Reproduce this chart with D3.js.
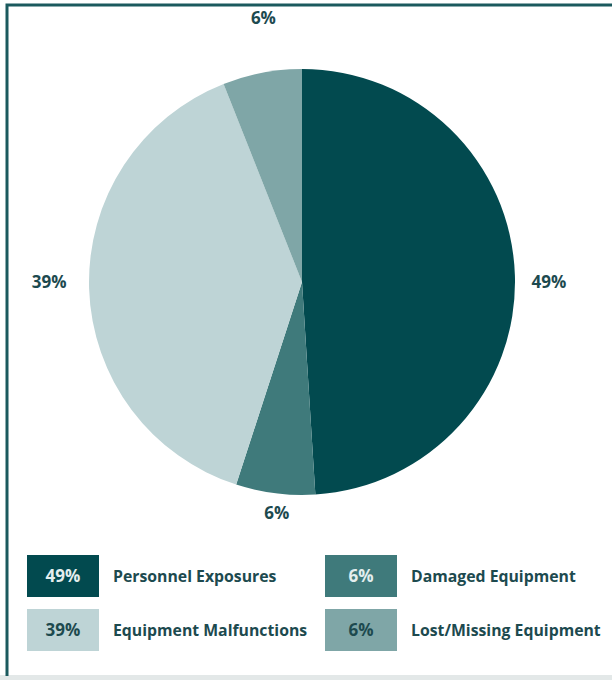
<!DOCTYPE html>
<html>
<head>
<meta charset="utf-8">
<script src="https://cdn.jsdelivr.net/npm/d3@7"></script>
<style>
  body { margin: 0; background: #fff; }
  svg text { font-family: "Open Sans", Lato, sans-serif; font-weight: 700; }
</style>
</head>
<body>
<div id="chart"></div>
<script>
// Chart data
const categories = ["Personnel Exposures", "Damaged Equipment", "Equipment Malfunctions", "Lost/Missing Equipment"];
const values = [49, 6, 39, 6];
const pctLabels = ["49%", "6%", "39%", "6%"];
const legendOrder = [0, 1, 2, 3];

const colors = ["#024a4f", "#3f7a7b", "#bed4d6", "#7fa6a7"];
const boxText = ["#e4eeee", "#e4eeee", "#1d4a4f", "#1d4a4f"];
const textColor = "#1d4a4f";

const width = 612, height = 680;
const cx = 302, cy = 282, radius = 213;

const svg = d3.select("#chart")
    .append("svg")
    .attr("width", width)
    .attr("height", height);

// frame
svg.append("line")
    .attr("x1", 0).attr("x2", width)
    .attr("y1", 677.5).attr("y2", 677.5)
    .attr("stroke", "#e3e8e8").attr("stroke-width", 5);
svg.append("path")
    .attr("d", "M7,676 V5 H" + (width + 10))
    .attr("fill", "none")
    .attr("stroke", "#1b5a5e")
    .attr("stroke-width", 3);

// Pie
const pie = d3.pie().sort(null).value(d => d);
const arcs = pie(values);
const arc = d3.arc().innerRadius(0).outerRadius(radius);

const g = svg.append("g")
    .attr("transform", "translate(" + cx + "," + cy + ")");

g.selectAll("path.slice")
    .data(arcs)
    .enter().append("path")
    .attr("class", "slice")
    .attr("d", arc)
    .attr("fill", (d, i) => colors[i]);

// outside labels: gap from pie edge, plus small nudges
const labelGap = [34, 20, 42, 57];
const nudge = [[0, 0], [4, 0], [2, 0], [12, 1]];
g.selectAll("text.pct")
    .data(arcs)
    .enter().append("text")
    .attr("class", "pct")
    .attr("transform", (d, i) => {
        const a = (d.startAngle + d.endAngle) / 2;
        const r = radius + labelGap[i];
        let x = Math.sin(a) * r, y = -Math.cos(a) * r;
        if (Math.abs(Math.sin(a)) > 0.9) y = 0;
        return "translate(" + (x + nudge[i][0]) + "," + (y + nudge[i][1]) + ")";
    })
    .attr("text-anchor", "middle")
    .attr("dy", "0.35em")
    .attr("fill", textColor)
    .style("font-size", "17px")
    .text((d, i) => pctLabels[i]);

// Legend
const legend = svg.append("g").attr("transform", "translate(27,555)");
const colX = d3.scaleOrdinal().domain([0, 1]).range([0, 298]);
const rowY = d3.scaleOrdinal().domain([0, 1]).range([0, 54]);

const items = legend.selectAll("g.item")
    .data(legendOrder)
    .enter().append("g")
    .attr("class", "item")
    .attr("transform", (d, k) => "translate(" + colX(k % 2) + "," + rowY(Math.floor(k / 2)) + ")");

items.append("rect")
    .attr("width", 72)
    .attr("height", 42)
    .attr("fill", d => colors[d]);

items.append("text")
    .attr("x", 36).attr("y", 21)
    .attr("dy", "0.35em")
    .attr("text-anchor", "middle")
    .attr("fill", d => boxText[d])
    .style("font-size", "17px")
    .text(d => pctLabels[d]);

items.append("text")
    .attr("x", 86).attr("y", 21)
    .attr("dy", "0.35em")
    .attr("fill", textColor)
    .style("font-size", "15.8px")
    .text(d => categories[d]);
</script>
</body>
</html>
